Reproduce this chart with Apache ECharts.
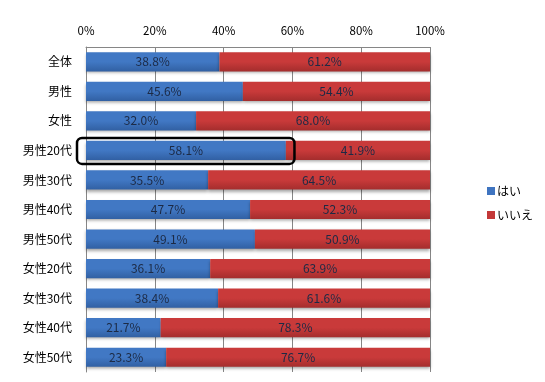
<!DOCTYPE html>
<html><head><meta charset="utf-8">
<script src="https://cdn.jsdelivr.net/npm/echarts@6/dist/echarts.min.js"></script>
<style>html,body{margin:0;padding:0;background:#fff}#c{width:545px;height:382px}</style>
</head><body><div id="c"></div>
<script>
const categories = ['全体','男性','女性','男性20代','男性30代','男性40代','男性50代','女性20代','女性30代','女性40代','女性50代'];
const yesValues = [38.8,45.6,32.0,58.1,35.5,47.7,49.1,36.1,38.4,21.7,23.3];
const noValues  = [61.2,54.4,68.0,41.9,64.5,52.3,50.9,63.9,61.6,78.3,76.7];
const seriesNames = ['はい','いいえ'];
const highlightIndex = 3;

const font = '"Noto Sans CJK JP", "DejaVu Sans", sans-serif';
const chart = echarts.init(document.getElementById('c'), null, {renderer:'canvas'});
function grad(a,b){return new echarts.graphic.LinearGradient(0,0,0,1,[{offset:0,color:a},{offset:0.5,color:a},{offset:1,color:b}]);}
const lbl = {show:true, position:'inside', formatter:p=>p.value.toFixed(1)+'%', color:'#1c2a45', fontSize:12, fontFamily:font};
chart.setOption({
  animation:false,
  grid:{left:86, right:115, top:47, bottom:10},
  legend:{orient:'vertical', left:482, top:180, itemWidth:8, itemHeight:8, itemGap:12, icon:'rect',
    textStyle:{fontSize:12, fontFamily:font, color:'#000', padding:[0,0,0,-3]}, data:seriesNames},
  xAxis:{type:'value', position:'top', min:0, max:100, interval:20,
    axisLabel:{formatter:'{value}%', fontSize:11.5, fontFamily:font, color:'#000', margin:11},
    axisLine:{show:true, lineStyle:{color:'#868686'}}, axisTick:{show:false},
    splitLine:{show:true, lineStyle:{color:'#868686', width:1}}},
  yAxis:{type:'category', inverse:true, data:categories,
    axisLabel:{fontSize:12, fontFamily:font, color:'#000', margin:14},
    axisLine:{show:true, lineStyle:{color:'#868686'}}, axisTick:{show:false}},
  series:[
    {name:seriesNames[0], type:'bar', stack:'a', data:yesValues, barCategoryGap:'35%',
      itemStyle:{color:grad('#4178c4','#3160a3'), shadowColor:'rgba(0,0,0,0.35)', shadowBlur:3, shadowOffsetY:2}, label:lbl},
    {name:seriesNames[1], type:'bar', stack:'a', data:noValues,
      itemStyle:{color:grad('#c93a3a','#a42d2d'), shadowColor:'rgba(0,0,0,0.35)', shadowBlur:3, shadowOffsetY:2}, label:lbl}
  ]
});
chart.setOption({legend:{data:[{name:seriesNames[0], itemStyle:{color:'#3f74c0'}},{name:seriesNames[1], itemStyle:{color:'#c33838'}}]}});
const p0 = chart.convertToPixel({gridIndex:0},[0, highlightIndex]);
const p1 = chart.convertToPixel({gridIndex:0},[yesValues[highlightIndex]+2.5, highlightIndex]);
chart.setOption({graphic:[{type:'rect', shape:{x:p0[0]-9, y:p0[1]-12.5, width:p1[0]-p0[0]+9, height:26, r:5},
  style:{fill:'none', stroke:'#000', lineWidth:2.5}, z:100}]});
</script></body></html>
